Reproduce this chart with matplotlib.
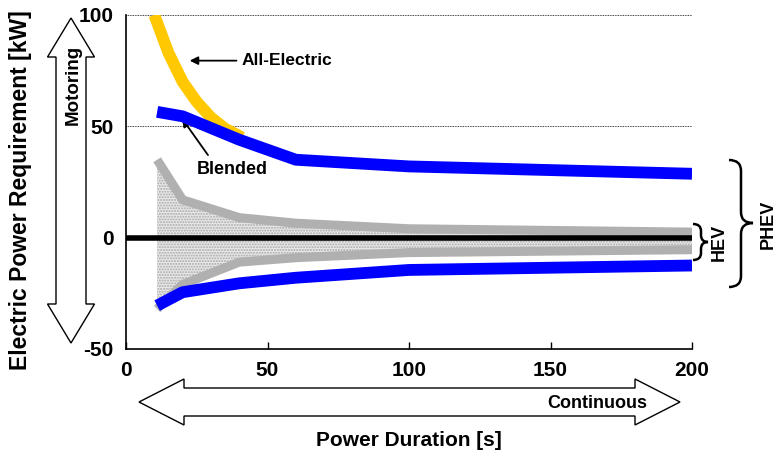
import matplotlib
matplotlib.use("Agg")
import matplotlib.pyplot as plt
from matplotlib.patches import Polygon, PathPatch
from matplotlib.path import Path

plt.rcParams['font.family'] = ['Liberation Sans', 'DejaVu Sans']
plt.rcParams['font.weight'] = 'bold'
plt.rcParams['axes.unicode_minus'] = False

# ---- data ----
ae_x = [10, 15, 20, 25, 30, 35, 41]
ae_y = [100, 83, 70, 61, 54, 49, 45]

blend_top_x = [11, 20, 40, 60, 100, 200]
blend_top_y = [56.5, 54.5, 44, 35, 32, 28.7]

blend_bot_x = [11, 20, 40, 60, 100, 200]
blend_bot_y = [-30.5, -24.5, -20.5, -18, -14.5, -12.5]

hev_top_x = [11, 20, 40, 60, 100, 200]
hev_top_y = [35, 17, 9, 6.5, 4, 2.5]

hev_bot_x = [11, 20, 40, 60, 100, 200]
hev_bot_y = [-32, -21, -11, -9, -6.7, -5.4]

zero_x = [0, 200]
zero_y = [0, 0]

xticks = [0, 50, 100, 150, 200]
yticks = [-50, 0, 50, 100]
grid_levels = [50, 100]

W, H = 776, 458
fig = plt.figure(figsize=(W / 100, H / 100), dpi=100)
ax = fig.add_axes([126 / W, 1 - 349 / H, (692 - 126) / W, (349 - 15) / H])
ax.set_xlim(0, 200)
ax.set_ylim(-50, 100)

for g in grid_levels:
    ax.plot([0, 200], [g, g], color='black', lw=0.6, ls=(0, (1, 1)), zorder=1)

# hatched region between HEV curves
ax.fill_between(hev_top_x, hev_top_y, hev_bot_y, facecolor='#e9e9e9',
                edgecolor='#a8a8a8', hatch='......', lw=0, zorder=1)

ax.plot(zero_x, zero_y, color='black', lw=4, zorder=3, solid_capstyle='butt')
ax.plot(hev_top_x, hev_top_y, color='#b0b0b0', lw=6.5, zorder=2, solid_capstyle='butt')
ax.plot(hev_bot_x, hev_bot_y, color='#b0b0b0', lw=6.5, zorder=2, solid_capstyle='butt')
ax.plot(ae_x, ae_y, color='#FFC800', lw=8.5, zorder=4, solid_capstyle='butt')
ax.plot(blend_top_x, blend_top_y, color='#0000FF', lw=8.5, zorder=5, solid_capstyle='butt')
ax.plot(blend_bot_x, blend_bot_y, color='#0000FF', lw=8.5, zorder=5, solid_capstyle='butt')

for s in ['top', 'right']:
    ax.spines[s].set_visible(False)
ax.spines['left'].set_linewidth(1.2)
ax.spines['bottom'].set_linewidth(1.2)
ax.set_xticks(xticks)
ax.set_yticks(yticks)
ax.tick_params(axis='x', direction='in', length=5, width=1, labelsize=15, pad=9)
ax.tick_params(axis='y', length=0, labelsize=15, pad=9)
for lab in ax.get_xticklabels() + ax.get_yticklabels():
    lab.set_fontweight('bold')

# annotations
ax.annotate('All-Electric', xy=(22.5, 79.5), xytext=(41, 79.5),
            fontsize=12.5, fontweight='bold', va='center', ha='left',
            arrowprops=dict(arrowstyle='-|>', color='black', lw=1.3,
                            mutation_scale=12, shrinkA=2, shrinkB=0))
ax.annotate('Blended', xy=(19.8, 53.5), xytext=(25, 30.5),
            fontsize=13, fontweight='bold', va='center', ha='left',
            arrowprops=dict(arrowstyle='-|>', color='black', lw=1.3,
                            mutation_scale=12, shrinkA=3, shrinkB=0,
                            relpos=(0.22, 1.0)))


def fx(x):
    return x / W


def fy(y):
    return 1 - y / H


# vertical hollow double arrow (left)
cx = 71
hw_s, hw_h = 15, 23.5
yt, yb, hl = 18, 343, 39
pts = [(cx, yt), (cx + hw_h, yt + hl), (cx + hw_s, yt + hl), (cx + hw_s, yb - hl),
       (cx + hw_h, yb - hl), (cx, yb), (cx - hw_h, yb - hl), (cx - hw_s, yb - hl),
       (cx - hw_s, yt + hl), (cx - hw_h, yt + hl)]
fig.patches.append(Polygon([(fx(a), fy(b)) for a, b in pts], closed=True,
                           transform=fig.transFigure, facecolor='white',
                           edgecolor='black', lw=1.0))
fig.text(fx(73), fy(85), 'Motoring', rotation=90, ha='center', va='center',
         fontsize=13.5, fontweight='bold')

# horizontal hollow double arrow (bottom)
cy = 402
xl, xr, hl2 = 139, 680, 45
hs, hh = 14, 23
pts = [(xl, cy), (xl + hl2, cy - hh), (xl + hl2, cy - hs), (xr - hl2, cy - hs),
       (xr - hl2, cy - hh), (xr, cy), (xr - hl2, cy + hh), (xr - hl2, cy + hs),
       (xl + hl2, cy + hs), (xl + hl2, cy + hh)]
fig.patches.append(Polygon([(fx(a), fy(b)) for a, b in pts], closed=True,
                           transform=fig.transFigure, facecolor='white',
                           edgecolor='black', lw=1.0))
fig.text(fx(597), fy(403), 'Continuous', ha='center', va='center',
         fontsize=13, fontweight='bold')

# axis labels
fig.text(fx(409), fy(441), 'Power Duration [s]', ha='center', va='center',
         fontsize=15, fontweight='bold')
fig.text(fx(21), fy(190), 'Electric Power Requirement [kW]', rotation=90,
         ha='center', va='center', fontsize=16.5, fontweight='bold')


def brace(x0, xm, xt, y0, y1, ym, r):
    verts = [(x0, y0), (xm, y0), (xm, y0 + r),
             (xm, ym - r),
             (xm, ym), (xt, ym),
             (xm, ym), (xm, ym + r),
             (xm, y1 - r),
             (xm, y1), (x0, y1)]
    codes = [Path.MOVETO, Path.CURVE3, Path.CURVE3,
             Path.LINETO,
             Path.CURVE3, Path.CURVE3,
             Path.CURVE3, Path.CURVE3,
             Path.LINETO,
             Path.CURVE3, Path.CURVE3]
    p = Path([(fx(a), fy(b)) for a, b in verts], codes)
    fig.patches.append(PathPatch(p, transform=fig.transFigure, facecolor='none',
                                 edgecolor='black', lw=1.8))


brace(693, 701, 708, 224, 260, 242, 7)
fig.text(fx(719), fy(242), 'HEV', rotation=90, ha='center', va='center',
         fontsize=13, fontweight='bold')
brace(729, 741, 753, 160, 287, 223, 11)
fig.text(fx(768), fy(224), 'PHEV', rotation=90, ha='center', va='center',
         fontsize=13, fontweight='bold')

fig.savefig('out.png', dpi=100)
